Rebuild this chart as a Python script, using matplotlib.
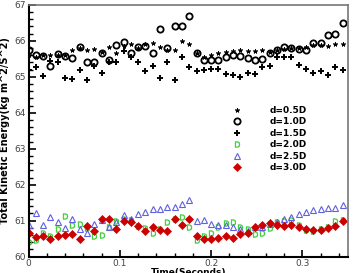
import numpy as np
import matplotlib
matplotlib.use('Agg')
import matplotlib.pyplot as plt
from matplotlib.ticker import MultipleLocator

# time samples (s)
t = np.arange(44) * 0.008

# Total kinetic energy for each spacing
ke_05 = [65.60, 65.55, 65.60, 65.61, 65.60, 65.60, 65.75, 65.80, 65.75, 65.78,
         65.70, 65.83, 65.65, 65.85, 65.90, 65.80, 65.90, 65.95, 65.83, 65.75,
         65.75, 66.00, 65.90, 65.65, 65.55, 65.60, 65.65, 65.70, 65.72, 65.75,
         65.73, 65.73, 65.75, 65.70, 65.75, 65.78, 65.80, 65.80, 65.82, 65.88,
         65.88, 65.85, 65.90, 65.90]
ke_10 = [65.75, 65.61, 65.58, 65.30, 65.64, 65.58, 65.53, 65.84, 65.42, 65.40,
         65.67, 65.47, 65.89, 65.98, 65.65, 65.82, 65.87, 65.66, 66.33, 65.80,
         66.42, 66.42, 66.69, 65.66, 65.47, 65.47, 65.47, 65.56, 65.60, 65.58,
         65.52, 65.47, 65.49, 65.66, 65.75, 65.82, 65.80, 65.77, 65.75, 65.93,
         65.93, 66.17, 66.19, 66.49]
ke_15 = [65.19, 65.27, 65.03, 65.45, 65.40, 64.98, 64.93, 65.19, 64.91, 65.30,
         65.10, 65.42, 65.42, 65.72, 65.55, 65.40, 65.15, 65.29, 64.96, 65.42,
         64.91, 65.56, 65.27, 65.15, 65.19, 65.21, 65.21, 65.08, 65.05, 65.00,
         65.10, 65.08, 65.27, 65.30, 65.56, 65.56, 65.56, 65.33, 65.21, 65.10,
         65.17, 65.05, 65.27, 65.19]
ke_20 = [60.42, 60.47, 60.65, 60.58, 60.77, 61.13, 60.88, 60.91, 60.80, 60.58,
         60.60, 60.82, 61.00, 61.04, 61.02, 60.85, 60.79, 60.65, 60.76, 60.95,
         61.04, 61.11, 60.82, 60.47, 60.56, 60.65, 60.83, 60.93, 60.96, 60.82,
         60.76, 60.63, 60.65, 60.79, 60.95, 61.00, 61.02, 60.88, 60.74, 60.72,
         60.76, 60.83, 61.00, 61.02]
ke_25 = [60.88, 61.22, 60.88, 61.10, 60.96, 60.79, 61.04, 60.76, 60.67, 60.90,
         61.02, 60.83, 60.97, 61.16, 61.04, 61.19, 61.25, 61.33, 61.33, 61.37,
         61.39, 61.47, 61.58, 60.98, 61.02, 60.91, 60.88, 60.88, 60.82, 60.76,
         60.72, 60.82, 60.83, 60.91, 60.97, 61.04, 61.11, 61.19, 61.25, 61.30,
         61.32, 61.35, 61.36, 61.44]
ke_30 = [60.67, 60.54, 60.58, 60.49, 60.58, 60.60, 60.63, 60.49, 60.86, 60.72,
         61.04, 61.04, 60.76, 61.00, 60.95, 60.86, 60.72, 60.82, 60.73, 60.70,
         61.04, 60.88, 61.04, 60.56, 60.49, 60.49, 60.52, 60.56, 60.52, 60.63,
         60.65, 60.82, 60.88, 60.93, 60.88, 60.86, 60.88, 60.83, 60.76, 60.74,
         60.74, 60.79, 60.86, 60.98]

labels = ['d=0.5D', 'd=1.0D', 'd=1.5D', 'd=2.0D', 'd=2.5D', 'd=3.0D']

fig = plt.figure(figsize=(3.53, 2.73), dpi=100)
ax = fig.add_axes([0.081, 0.060, 0.905, 0.922])

ax.plot(t, ke_05, ls='none', marker=(5, 2, 0), ms=3.2, mew=0.7, color='black', label=labels[0])
ax.plot(t, ke_10, ls='none', marker='o', ms=4.5, mew=1.3, mfc='none', color='black', label=labels[1])
ax.plot(t, ke_15, ls='none', marker='+', ms=5, mew=1.4, color='black', label=labels[2])
ax.plot(t, ke_20, ls='none', marker='$\\mathrm{D}$', ms=4.2, mew=0.3, color='#33cc33', label=labels[3])
ax.plot(t, ke_25, ls='none', marker='^', ms=4.5, mew=0.8, mfc='none', color='#6060e0', label=labels[4])
ax.plot(t, ke_30, ls='none', marker='D', ms=3.8, mew=0.5, color='#cc0000', label=labels[5])

ax.set_xlim(0, 0.35)
ax.set_ylim(60, 67)
ax.xaxis.set_major_locator(MultipleLocator(0.1))
ax.xaxis.set_minor_locator(MultipleLocator(0.02))
ax.yaxis.set_major_locator(MultipleLocator(1))
ax.yaxis.set_minor_locator(MultipleLocator(0.2))
ax.set_xticks([0, 0.1, 0.2, 0.3])
ax.set_xticklabels(['0', '0.1', '0.2', '0.3'])
ax.tick_params(which='both', direction='in', top=False, right=False,
               labelsize=6.5, labelcolor='#444444', pad=2)
ax.tick_params(which='major', length=5, width=1.2)
ax.tick_params(which='minor', length=3, width=1.0)

for s in ['left', 'bottom']:
    ax.spines[s].set_linewidth(1.5)
for s in ['top', 'right']:
    ax.spines[s].set_color('#777777')
    ax.spines[s].set_linewidth(1.2)

ax.set_xlabel('Time(Seconds)', fontsize=6.5, fontweight='bold', labelpad=0)
ax.set_ylabel('Total Kinetic Energy(kg m^2/S^2)', fontsize=7, fontweight='bold', labelpad=3)

ax.legend(loc='upper left', bbox_to_anchor=(0.6385, 0.599), frameon=False,
          prop={'size': 6.5, 'weight': 'bold'}, labelspacing=0.28,
          handlelength=1.0, handletextpad=3.1, borderpad=0, borderaxespad=0)

fig.savefig('out.png', dpi=100)
